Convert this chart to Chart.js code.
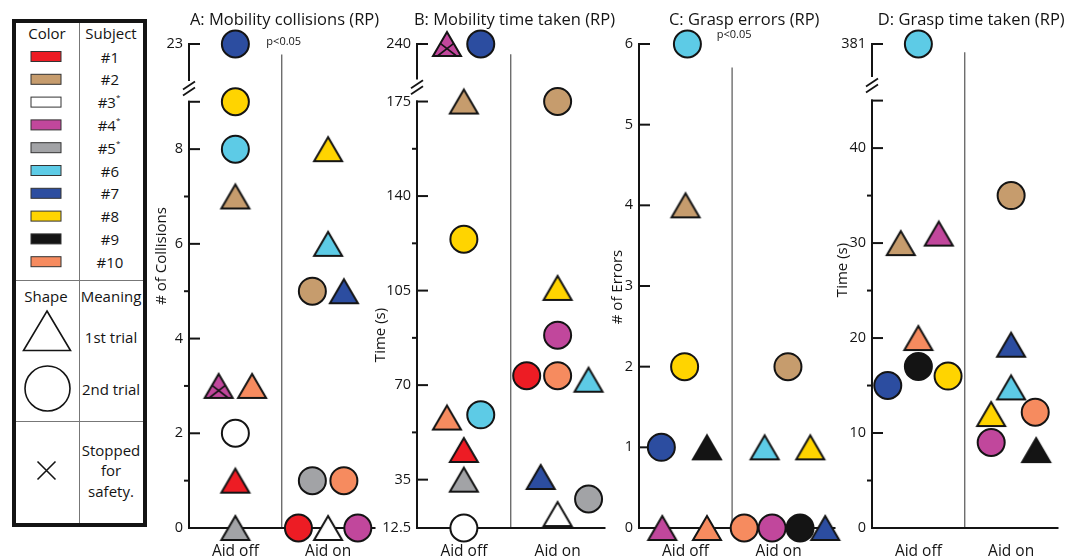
<!DOCTYPE html>
<html>
<head>
<meta charset="utf-8">
<title>RP trials with and without aid</title>
<script src="https://cdn.jsdelivr.net/npm/chart.js"></script>
<style>
  body { margin: 0; background: #fff; }
  #wrap { position: relative; width: 1073px; height: 560px; overflow: hidden; }
  #wrap canvas { position: absolute; top: 0; }
  #legend { position: absolute; left: 0; top: 0; }
</style>
</head>
<body>
<div id="wrap">
  <svg id="legend" width="150" height="560" xmlns="http://www.w3.org/2000/svg"></svg>
  <canvas id="chartA" width="240" height="560" style="left:150px"></canvas>
  <canvas id="chartB" width="250" height="560" style="left:370px"></canvas>
  <canvas id="chartC" width="250" height="560" style="left:600px"></canvas>
  <canvas id="chartD" width="243" height="560" style="left:830px"></canvas>
</div>
<script>
// subjects and their colours
const subjects = ['#1', '#2', '#3*', '#4*', '#5*', '#6', '#7', '#8', '#9', '#10'];
const subjectColors = ['#ED1C24', '#C69C6D', '#FFFFFF', '#C1479C', '#A2A3A6', '#5DCBE6', '#2C4DA0', '#FFD400', '#141414', '#F68B5F'];
const conditions = ['Aid off', 'Aid on'];

// A: mobility collisions (value per subject, trial 1 = triangle, 2 = circle)
const aOffValue = [1, 7, 2, 3, 0, 8, 23, 9, null, 3];
const aOffTrial = [1, 1, 2, 1, 1, 2, 2, 2, null, 1];
const aOffJitter = [0, 0, 0, -0.18, 0, 0, 0, 0, null, 0.18];
const aOffStopped = [4];
const aOnValue = [0, 5, 0, 0, 1, 6, 5, 8, null, 1];
const aOnTrial = [2, 2, 1, 2, 2, 1, 1, 1, null, 2];
const aOnJitter = [-0.32, -0.17, 0, 0.32, -0.17, 0, 0.17, 0, null, 0.17];
const aTicks = [0, 2, 4, 6, 8, 23];
const aMinorTicks = [1, 3, 5, 7];

// B: mobility time taken (s)
const bOffValue = [46, 175, 12.5, 240, 35, 59, 240, 124, null, 58];
const bOffTrial = [1, 1, 2, 1, 1, 2, 2, 2, null, 1];
const bOffJitter = [0, 0, 0, -0.18, 0, 0.18, 0.18, 0, null, -0.18];
const bOffStopped = [4];
const bOnValue = [73.5, 175, 19, 88.5, 26, 72, 36, 106, null, 73.5];
const bOnTrial = [2, 2, 1, 2, 2, 1, 1, 1, null, 2];
const bOnJitter = [-0.33, 0, 0, 0, 0.33, 0.33, -0.18, 0, null, 0];
const bTicks = [12.5, 35, 70, 105, 140, 175, 240];
const bMinorTicks = [52.5, 87.5, 122.5, 157.5];

// C: grasp errors
const cOffValue = [null, 4, null, 0, null, 6, 1, 2, 1, 0];
const cOffTrial = [null, 1, null, 1, null, 2, 2, 2, 1, 1];
const cOffJitter = [null, 0, null, -0.25, null, 0.02, -0.26, -0.01, 0.23, 0.23];
const cOnValue = [null, 2, null, 0, null, 1, 0, 1, 0, 0];
const cOnTrial = [null, 2, null, 2, null, 1, 1, 1, 2, 2];
const cOnJitter = [null, 0.1, null, -0.07, null, -0.15, 0.5, 0.34, 0.23, -0.37];
const cTicks = [0, 1, 2, 3, 4, 5, 6];
const cMinorTicks = [];

// D: grasp time taken (s)
const dOffValue = [null, 30, null, 31, null, 381, 15, 16, 17, 20];
const dOffTrial = [null, 1, null, 1, null, 2, 2, 2, 2, 1];
const dOffJitter = [null, -0.19, null, 0.22, null, 0, -0.33, 0.32, 0, 0];
const dOnValue = [null, 35, null, 9, null, 14.8, 19.3, 12, 8.2, 12.2];
const dOnTrial = [null, 2, null, 2, null, 1, 1, 1, 1, 2];
const dOnJitter = [null, 0, null, -0.215, null, 0, 0, -0.215, 0.27, 0.26];
const dTicks = [0, 10, 20, 30, 40, 381];
const dMinorTicks = [5, 15, 25, 35];

const FONT = '"Open Sans", "DejaVu Sans", sans-serif';
const INK = '#141414';

// piecewise mapping for the broken axes
function knotMap(knots) {
  return v => {
    for (let i = 1; i < knots.length; i++) {
      const [a0, b0] = knots[i - 1], [a1, b1] = knots[i];
      if (v <= a1 || i === knots.length - 1) return b0 + (v - a0) * (b1 - b0) / (a1 - a0);
    }
  };
}

// triangle marker, centred on its bounding box
const triCache = {};
function triangleImage(color, stopped) {
  const key = color + stopped;
  if (triCache[key]) return triCache[key];
  const w = 28, h = 24, pad = 3;
  const c = document.createElement('canvas');
  c.width = w + pad * 2; c.height = h + pad * 2;
  const g = c.getContext('2d');
  g.beginPath();
  g.moveTo(pad + w / 2, pad);
  g.lineTo(pad + w, pad + h);
  g.lineTo(pad, pad + h);
  g.closePath();
  g.fillStyle = color; g.fill();
  g.lineWidth = 2; g.strokeStyle = INK; g.lineJoin = 'miter'; g.stroke();
  if (stopped) {
    g.lineWidth = 1.6;
    g.beginPath();
    g.moveTo(pad + w * 0.27, pad + h * 0.48); g.lineTo(pad + w * 0.84, pad + h);
    g.moveTo(pad + w * 0.73, pad + h * 0.48); g.lineTo(pad + w * 0.16, pad + h);
    g.stroke();
  }
  triCache[key] = c;
  return c;
}

const axisDecor = {
  id: 'axisDecor',
  beforeDatasetsDraw(chart, args, o) {
    const {ctx, chartArea: a, scales: {x, y}} = chart;
    const py = v => y.getPixelForValue(v);
    const line = (x1, y1, x2, y2) => { ctx.beginPath(); ctx.moveTo(x1, y1); ctx.lineTo(x2, y2); ctx.stroke(); };
    ctx.save();
    // divider between conditions
    ctx.strokeStyle = '#555'; ctx.lineWidth = 1.2;
    const xd = x.getPixelForValue(1);
    line(xd, py(o.dividerTop), xd, a.bottom);
    ctx.strokeStyle = INK; ctx.lineWidth = 2; ctx.lineCap = 'square';
    line(a.left, a.bottom, a.right, a.bottom);
    o.segments.forEach(([lo, hi]) => line(a.left, py(lo), a.left, py(hi)));
    o.majors.forEach(v => line(a.left, py(v), a.left + 10, py(v)));
    ctx.lineCap = 'butt';
    o.minors.forEach(v => line(a.left - 5, py(v), a.left, py(v)));
    if (o.slashAt != null) {
      const c = py(o.slashAt);
      ctx.lineWidth = 1.8;
      [-3, 3].forEach(d => line(a.left - 6, c + d + 4, a.left + 6, c + d - 4));
    }
    ctx.restore();
  },
  afterDraw(chart, args, o) {
    const {ctx, chartArea: a, scales: {x}} = chart;
    ctx.save();
    ctx.fillStyle = INK;
    ctx.textAlign = 'center';
    ctx.textBaseline = 'alphabetic';
    ctx.font = '16.5px ' + FONT;
    ctx.fillText(o.title, x.getPixelForValue(o.titleAt), 25);
    if (o.pText) {
      ctx.font = '11px ' + FONT;
      ctx.textBaseline = 'middle';
      ctx.fillText(o.pText, x.getPixelForValue(1) + 2, o.pY);
    }
    ctx.translate(a.left + o.yTitleDx, o.yTitleY);
    ctx.rotate(-Math.PI / 2);
    ctx.textBaseline = 'middle';
    ctx.font = '15px ' + FONT;
    ctx.fillText(o.yTitle, 0, 0);
    ctx.restore();
  }
};

function makePanel(id, p) {
  const map = knotMap(p.knots);
  const pts = [], bg = [], styles = [];
  [[p.offValue, p.offTrial, p.offJitter, p.offStopped || []],
   [p.onValue, p.onTrial, p.onJitter, []]].forEach(([vals, trials, jit, stopped], c) => {
    vals.forEach((v, i) => {
      if (v === null) return;
      pts.push({x: c + 0.5 + jit[i], y: map(v)});
      bg.push(subjectColors[i]);
      styles.push(trials[i] === 1 ? triangleImage(subjectColors[i], stopped.includes(i + 1)) : 'circle');
    });
  });
  const majors = p.ticks.map(map).concat(p.capAt != null ? [p.capAt] : []);
  return new Chart(document.getElementById(id), {
    type: 'scatter',
    data: {
      datasets: [{
        data: pts,
        backgroundColor: bg,
        borderColor: INK,
        borderWidth: 2,
        pointStyle: styles,
        pointRadius: 13.5,
        clip: false
      }]
    },
    options: {
      responsive: false,
      animation: false,
      events: [],
      layout: {padding: {left: 0, right: p.padRight, top: 44, bottom: 0}},
      plugins: {
        legend: {display: false},
        tooltip: {enabled: false},
        axisDecor: {
          title: p.title, titleAt: p.titleAt,
          yTitle: p.yTitle, yTitleDx: p.yTitleDx, yTitleY: p.yTitleY,
          pText: p.pText, pY: p.pY,
          segments: p.segments, majors: majors,
          minors: p.minors.map(map), slashAt: p.slashAt,
          dividerTop: p.dividerTop
        }
      },
      scales: {
        x: {
          type: 'linear', min: 0, max: p.xMax,
          afterFit: s => { s.height = 32; },
          afterBuildTicks: s => { s.ticks = [{value: 0.5}, {value: 1.5}]; },
          ticks: {
            callback: (v, i) => conditions[i],
            autoSkip: false, maxRotation: 0, padding: 14,
            color: INK, font: {family: FONT, size: 15.5}
          },
          grid: {display: false, drawTicks: false},
          border: {display: false}
        },
        y: {
          type: 'linear', min: p.yMin, max: p.yMax,
          afterFit: s => { s.width = p.yWidth; },
          afterBuildTicks: s => { s.ticks = p.ticks.map(v => ({value: map(v)})); },
          ticks: {
            callback: (v, i) => String(p.ticks[i]),
            autoSkip: false, padding: 6,
            color: INK, font: {family: FONT, size: 14.5}
          },
          grid: {display: false, drawTicks: false},
          border: {display: false}
        }
      }
    },
    plugins: [axisDecor]
  });
}

makePanel('chartA', {
  offValue: aOffValue, offTrial: aOffTrial, offJitter: aOffJitter, offStopped: aOffStopped,
  onValue: aOnValue, onTrial: aOnTrial, onJitter: aOnJitter,
  ticks: aTicks, minors: aMinorTicks,
  knots: [[0, 0], [9, 9], [23, 10.22]], yMin: 0, yMax: 10.22,
  segments: [[0, 9], [9.46, 10.22]], capAt: 9, slashAt: 9.28, dividerTop: 10.0,
  xMax: 2, yWidth: 39, padRight: 11,
  title: 'A: Mobility collisions (RP)', titleAt: 1.03,
  yTitle: '# of Collisions', yTitleDx: -27, yTitleY: 256,
  pText: 'p<0.05', pY: 42
});

makePanel('chartB', {
  offValue: bOffValue, offTrial: bOffTrial, offJitter: bOffJitter, offStopped: bOffStopped,
  onValue: bOnValue, onTrial: bOnTrial, onJitter: bOnJitter,
  ticks: bTicks, minors: bMinorTicks,
  knots: [[12.5, 17.1], [35, 35], [175, 175], [240, 196.3]], yMin: 17.1, yMax: 196.3,
  segments: [[17.1, 175], [183.5, 196.3]], capAt: null, slashAt: 180.3, dividerTop: 192.5,
  xMax: 2, yWidth: 47, padRight: 13,
  title: 'B: Mobility time taken (RP)', titleAt: 1.04,
  yTitle: 'Time (s)', yTitleDx: -36, yTitleY: 335
});

makePanel('chartC', {
  offValue: cOffValue, offTrial: cOffTrial, offJitter: cOffJitter,
  onValue: cOnValue, onTrial: cOnTrial, onJitter: cOnJitter,
  ticks: cTicks, minors: cMinorTicks,
  knots: [[0, 0], [6, 6]], yMin: 0, yMax: 6,
  segments: [[0, 6]], capAt: null, slashAt: null, dividerTop: 5.71,
  xMax: 2.1, yWidth: 39, padRight: 14,
  title: 'C: Grasp errors (RP)', titleAt: 1.13,
  yTitle: '# of Errors', yTitleDx: -21.5, yTitleY: 287,
  pText: 'p<0.05', pY: 35
});

makePanel('chartD', {
  offValue: dOffValue, offTrial: dOffTrial, offJitter: dOffJitter,
  onValue: dOnValue, onTrial: dOnTrial, onJitter: dOnJitter,
  ticks: dTicks, minors: dMinorTicks,
  knots: [[0, 0], [45, 45], [381, 50.96]], yMin: 0, yMax: 50.96,
  segments: [[0, 45], [47.6, 50.96]], capAt: 45, slashAt: 46.6, dividerTop: 50.1,
  xMax: 2, yWidth: 42, padRight: 13,
  title: 'D: Grasp time taken (RP)', titleAt: 1.07,
  yTitle: 'Time (s)', yTitleDx: -29, yTitleY: 270
});

// legend box
(function buildLegend() {
  const svg = document.getElementById('legend');
  const NS = 'http://www.w3.org/2000/svg';
  const add = (tag, attrs, text) => {
    const el = document.createElementNS(NS, tag);
    Object.entries(attrs).forEach(([k, v]) => el.setAttribute(k, v));
    if (text != null) el.textContent = text;
    svg.appendChild(el);
    return el;
  };
  const txt = (x, y, s) => add('text', {x, y, 'text-anchor': 'middle', 'dominant-baseline': 'central',
    'font-family': FONT, 'font-size': 15, fill: INK}, s);
  add('rect', {x: 14, y: 21, width: 131, height: 504, fill: '#fff', stroke: INK, 'stroke-width': 4});
  add('line', {x1: 79.5, y1: 23, x2: 79.5, y2: 523, stroke: '#777', 'stroke-width': 1});
  add('line', {x1: 16, y1: 280.5, x2: 143, y2: 280.5, stroke: '#777', 'stroke-width': 1});
  add('line', {x1: 16, y1: 421.5, x2: 143, y2: 421.5, stroke: '#777', 'stroke-width': 1});
  txt(47, 33, 'Color');
  txt(111, 33, 'Subject');
  subjects.forEach((s, i) => {
    const y = 56.5 + i * 22.8;
    add('rect', {x: 31, y: y - 5, width: 30, height: 10, fill: subjectColors[i], stroke: '#333', 'stroke-width': 1});
    const star = s.endsWith('*');
    const t = txt(star ? 109 : 110, y, star ? s.slice(0, -1) : s);
    if (star) {
      const sup = document.createElementNS(NS, 'tspan');
      sup.setAttribute('font-size', 8);
      sup.setAttribute('dy', -6);
      sup.textContent = '*';
      t.appendChild(sup);
    }
  });
  txt(46, 296, 'Shape');
  txt(111, 296, 'Meaning');
  add('polygon', {points: '47,311 70.5,350.5 23.5,350.5', fill: 'none', stroke: INK, 'stroke-width': 1.6});
  txt(111, 337, '1st trial');
  add('circle', {cx: 47.5, cy: 388.5, r: 22.5, fill: 'none', stroke: INK, 'stroke-width': 1.6});
  txt(111, 389, '2nd trial');
  add('path', {d: 'M37.5 461.5 L55.5 479.5 M55.5 461.5 L37.5 479.5', stroke: INK, 'stroke-width': 1.6});
  txt(111, 450, 'Stopped');
  txt(111, 470, 'for');
  txt(111, 491, 'safety.');
})();
</script>
</body>
</html>
